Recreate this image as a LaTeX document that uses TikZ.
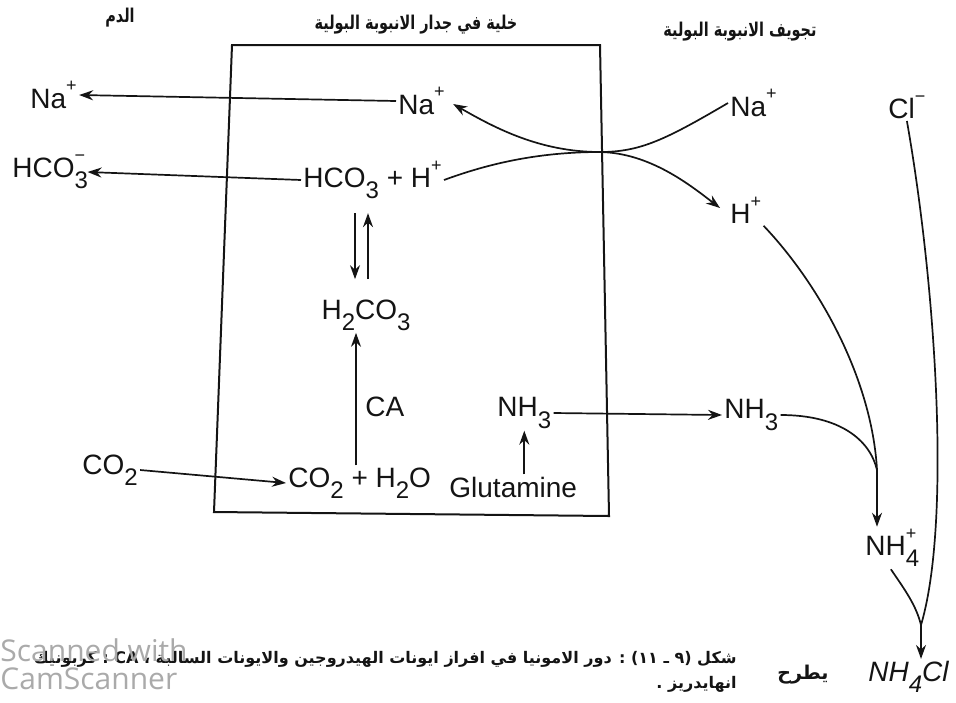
\documentclass[tikz,border=0pt]{standalone}
\usepackage{fontspec}
\setmainfont{Liberation Sans}
\newfontfamily\arabicfont[Script=Arabic]{DejaVu Sans}
\newfontfamily\wmfont{Open Sans}
\usepackage{tikz}
\usetikzlibrary{arrows.meta, calc}
\TeXXeTstate=1
\definecolor{inkblack}{RGB}{20,20,20}
\definecolor{scangray}{RGB}{170,170,170}
\newcommand{\chsb}[1]{\raisebox{-0.75ex}{\fontsize{12}{12}\selectfont #1}}
\newcommand{\chsp}[1]{\raisebox{1.1ex}{\fontsize{9}{9}\selectfont #1}}
\newcommand{\chsbsp}[2]{\rlap{\chsb{#1}}\chsp{#2}}
\newcommand{\arhead}[1]{\scalebox{0.76}[1]{\beginR #1\endR}}

\begin{document}
\begin{tikzpicture}[x=0.5pt, y=-0.5pt, inkblack,
    chem/.style={inner sep=1pt, anchor=west, font=\fontsize{14}{16}\selectfont},
    head/.style={font=\arabicfont\bfseries\fontsize{9.5}{11}\selectfont},
    captext/.style={font=\arabicfont\bfseries\fontsize{8}{12.5}\selectfont, align=right, inner sep=0pt},
    wm/.style={text=scangray, font=\wmfont\fontsize{15}{17}\selectfont, inner sep=0pt},
    flow/.style={-{Stealth[length=7pt,width=5pt]}, line width=0.85pt},
    link/.style={line width=0.85pt}]
  \useasboundingbox (0,0) rectangle (956,702);
  \draw[line width=1pt] (232,45) -- (600,45) -- (609,516) -- (214,512) -- cycle;

  \node[head] (blood) at (120,18) {\arhead{الدم}};
  \node[head] (wall) at (416,25) {\arhead{خلية في جدار الانبوبة البولية}};
  \node[head] (lumen) at (740,32) {\arhead{تجويف الانبوبة البولية}};

  \node[chem] (naB) at (28,95) {Na\chsp{+}};
  \node[chem] (hcoB) at (10,172) {HCO\chsbsp{3}{−}};
  \node[chem] (co2B) at (80,470) {CO\chsb{2}};
  \node[chem] (naC) at (396,101) {Na\chsp{+}};
  \node[chem] (hcoC) at (301,180) {HCO\chsb{3} + H\chsp{+}};
  \node[chem, anchor=center] (h2co3) at (366,315) {H\chsb{2}CO\chsb{3}};
  \node[chem] (ca) at (363,407) {CA};
  \node[chem] (nh3C) at (495,413) {NH\chsb{3}};
  \node[chem] (co2h2o) at (286,483) {CO\chsb{2} + H\chsb{2}O};
  \node[chem] (glut) at (447,487) {Glutamine};
  \node[chem] (naL) at (728,103) {Na\chsp{+}};
  \node[chem] (hL) at (728,210) {H\chsp{+}};
  \node[chem] (clL) at (886,107) {Cl\chsp{−}};
  \node[chem] (nh3L) at (722,415) {NH\chsb{3}};
  \node[chem] (nh4) at (863,548) {NH\chsbsp{4}{+}};
  \node[chem, font=\itshape\fontsize{14}{16}\selectfont] (nh4cl) at (866,677) {NH\chsb{4}Cl};
  \node[head] (excr) at (803,675) {\beginR يطرح\endR};

  \draw[flow] (naC.west) -- (naB.east);
  \draw[flow] (hcoC.west) -- (hcoB.east);
  \draw[flow] (co2B.east) -- (co2h2o.west);
  \draw[flow] ($(h2co3.north)+(-11,-84)$) -- ($(h2co3.north)+(-11,-18)$);
  \draw[flow] ($(h2co3.north)+(2,-18)$) -- ($(h2co3.north)+(2,-84)$);
  \draw[flow] ($(h2co3.south |- co2h2o.north)+(-10,0)$) -- ($(h2co3.south)+(-10,0)$);
  \draw[flow] (glut.north -| nh3C) -- (nh3C.south);
  \draw[flow] (nh3C.east) -- (nh3L.west);

  \coordinate (cross) at (600,152);
  \draw[flow] (naL.west) .. controls (665,140) and (640,152) .. (cross)
    .. controls (540,152) and (495,128) .. ($(naC.east)+(6,3)$);
  \draw[flow] (hcoC.east) .. controls (490,163) and (540,152) .. (cross)
    .. controls (650,153) and (690,185) .. ($(hL.west)+(-8,-2)$);

  \coordinate (m1) at (877,470);
  \draw[link] (hL.south east) .. controls (820,285) and (872,380) .. (m1);
  \draw[link] (nh3L.east) .. controls (840,415) and (870,440) .. (m1);
  \draw[flow] (m1) -- (m1 |- nh4.north);
  \coordinate (m2) at (921,625);
  \draw[link] (clL.south) .. controls (935,280) and (952,520) .. (m2);
  \draw[link] (nh4.south) .. controls (905,590) and (916,605) .. (m2);
  \draw[flow] (m2) -- (m2 |- nh4cl.north);

  \node[captext, anchor=north east] (caption) at (737,651)
    {\beginR شكل (٩ ـ ١١) : دور الامونيا في افراز ايونات الهيدروجين والايونات السالبة ، \beginL CA\endL{} : كربونيك\endR\\
     \beginR انهايدريز .\endR};
  \node[wm, anchor=base west] (scan) at (0,661) {Scanned with};
  \node[wm, anchor=base west] (cam) at (0,689) {CamScanner};
\end{tikzpicture}
\end{document}
